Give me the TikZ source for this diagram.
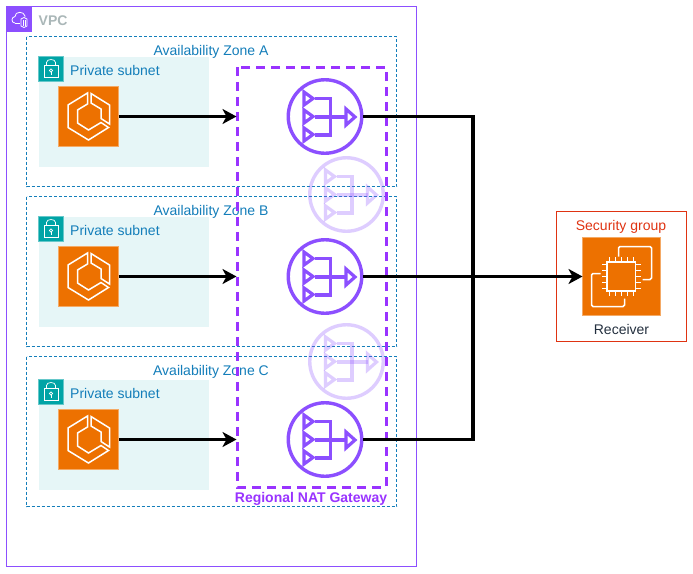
\documentclass[tikz,border=0pt]{standalone}
\usepackage{fontspec}
\setmainfont{Liberation Sans}
\usetikzlibrary{arrows.meta}
\definecolor{vpcpurple}{HTML}{8C4FFF}
\definecolor{azblue}{HTML}{147EBA}
\definecolor{subnetfill}{HTML}{E6F6F7}
\definecolor{subnetgreen}{HTML}{00A4A6}
\definecolor{natdash}{HTML}{9933FF}
\definecolor{awsorange}{HTML}{ED7100}
\definecolor{sgred}{HTML}{DF3312}
\definecolor{vpcgrey}{HTML}{AAB7B8}
\definecolor{inkdark}{HTML}{232F3E}
\newcommand{\labelsize}{\fontsize{14}{16}\selectfont}
\tikzset{
  vpcbox/.style={draw=vpcpurple,line width=1pt,fill=white},
  azbox/.style={draw=azblue,line width=0.8pt,dash pattern=on 3pt off 2pt},
  subnetbox/.style={fill=subnetfill},
  badge/.style={fill=subnetgreen,draw=subnetgreen!60!white,line width=.5pt},
  nataround/.style={dash pattern=on 9pt off 6pt,draw=natdash,line width=3pt},
  orangebox/.style={draw=awsorange!60!white,fill=awsorange,line width=.8pt,inner sep=0pt,outer sep=0pt,rectangle},
  natnode/.style={circle,draw=vpcpurple,line width=3.4pt,minimum size=73.5pt,inner sep=0pt,outer sep=1.7pt},
  fadednode/.style={natnode,draw opacity=.28},
  azlabel/.style={text=azblue,font=\labelsize,inner sep=0pt},
  wire/.style={draw=black,line width=3.2pt},
  arrowwire/.style={wire,-{Stealth[length=14pt,width=15pt,inset=4pt]}},
  glyphline/.style={draw=white,line width=1.5pt,line join=miter},
}
\newcommand{\ecsglyph}[1]{%
  \begin{scope}[shift={(#1)},glyphline]
    \draw (-1,-23.5) -- (-20.5,-11.5) -- (-20.5,11) -- (0,23.5) -- (20,11) -- (12.5,6) -- (0,13.5) -- (-11,6.5) -- (-11,-6.5) -- (-1,-12.5) -- cycle;
    \draw (2.5,-23) -- (21,-11.5) -- (21,7.5) -- (12.5,2) -- (12.5,-7.5) -- (2.5,-13.5) -- cycle;
  \end{scope}}
\newcommand{\natglyph}[2][1]{%
  \begin{scope}[shift={(#2)},draw=vpcpurple,draw opacity=#1,line width=3.2pt,line join=miter]
    \draw (-21,-24.5) -- (-12,-18) -- (-21,-11.5) -- cycle;
    \draw (-21,-6.5) -- (-12,0) -- (-21,6.5) -- cycle;
    \draw (-21,11.5) -- (-12,18) -- (-21,24.5) -- cycle;
    \draw (-10,-18) -- (5.5,-18) -- (5.5,18.5) -- (-10,18.5);
    \draw (-10,0.5) -- (21,0.5);
    \draw (21,-7.5) -- (30,0.5) -- (21,8.5) -- cycle;
  \end{scope}}
\begin{document}
\begin{tikzpicture}[x=1pt,y=-1pt]
\useasboundingbox (0,0) rectangle (693,573);
% VPC
\draw[vpcbox] (6.5,6.5) rectangle (416.5,566.5);
\fill[vpcpurple] (6,6) rectangle (32,32);
\begin{scope}[draw=white,line width=.8pt]
  \draw (15,23) .. controls (11,23) and (11,17) .. (15,16.5) .. controls (15,11) and (24,11) .. (25,16) -- (25,17);
  \draw (15,23) -- (20,23);
  \draw (21,19) -- (24,17.5) -- (27,19) -- (27,26) -- (24,27.5) -- (21,26) -- cycle;
  \draw (23,19.5) -- (23,26) (25,19.5) -- (25,26);
\end{scope}
\node[text=vpcgrey,font=\labelsize\bfseries,anchor=west,inner sep=0pt] (vpclabel) at (38.5,20.5) {VPC};
% Availability zones
\draw[azbox] (26.5,36.5) rectangle (396.5,186.5);
\draw[azbox] (26.5,196.5) rectangle (396.5,346.5);
\draw[azbox] (26.5,356.5) rectangle (396.5,506.5);
\node[azlabel] (azA) at (211,52) {Availability Zone A};
\node[azlabel] (azB) at (211,212) {Availability Zone B};
\node[azlabel] (azC) at (211,372) {Availability Zone C};
% Subnets
\foreach \top/\nm in {56.5/A,216.5/B,379.5/C}{
  \fill[subnetbox] (38.5,\top) rectangle (208.5,\top+110);
  \fill[badge] (38.5,\top) rectangle (63.5,\top+25);
  \begin{scope}[shift={(51,\top)},draw=white,line width=.7pt]
    \draw (-7,9) rectangle (7,21);
    \draw (-4.5,9) -- (-4.5,6) .. controls (-4.5,2) and (4.5,2) .. (4.5,6) -- (4.5,9);
    \draw (0,14) circle (1.6);
    \draw (0,15.6) -- (0,18);
  \end{scope}
  \node[azlabel,anchor=west] (subnet\nm) at (70,\top+13.5) {Private subnet};
}
% Container icons
\node[orangebox,minimum size=60pt] (ecsA) at (88.5,116.5) {};
\node[orangebox,minimum size=60pt] (ecsB) at (88.5,276.5) {};
\node[orangebox,minimum size=60pt] (ecsC) at (88.5,439.5) {};
\ecsglyph{ecsA.center}
\ecsglyph{ecsB.center}
\ecsglyph{ecsC.center}
% Regional NAT
\draw[nataround] (237,67) rectangle (386,487);
\node[text=natdash,font=\labelsize\bfseries,inner sep=0pt] (natlabel) at (311,499) {Regional NAT Gateway};
% Faded gateways
\node[fadednode] (fadeA) at (346.5,194.5) {};
\node[fadednode] (fadeB) at (346.5,361.5) {};
\natglyph[.28]{fadeA.center}
\natglyph[.28]{fadeB.center}
% Gateways
\node[natnode] (natA) at (325,116.5) {};
\node[natnode] (natB) at (325,276.5) {};
\node[natnode] (natC) at (325,439.5) {};
\natglyph{natA.center}
\natglyph{natB.center}
\natglyph{natC.center}
% Security group and receiver
\draw[draw=sgred,line width=.8pt] (556.5,211.5) rectangle (686.5,341.5);
\node[text=sgred,font=\labelsize,inner sep=0pt] (sglabel) at (621,227) {Security group};
\node[orangebox,minimum size=78pt] (recv) at (621.5,276.5) {};
\begin{scope}[shift={(recv.center)},draw=white,line width=1.5pt,rounded corners=1.5pt]
  \draw (-3,-20) -- (-3,-30) -- (30,-30) -- (30,3) -- (21,3);
  \draw (-21,-3) -- (-30,-3) -- (-30,30) -- (3,30) -- (3,22);
\end{scope}
\begin{scope}[shift={(recv.center)},draw=white,line width=1.5pt]
  \draw (-14.5,-14.5) rectangle (14,14.5);
  \foreach \p in {-12,-6,0,6,12}{
    \draw (\p,-14.5) -- (\p,-19.5) (\p,14.5) -- (\p,19.5);
    \draw (-14.5,\p) -- (-19.5,\p) (14,\p) -- (19,\p);
  }
\end{scope}
\node[text=inkdark,font=\labelsize,inner sep=0pt] (recvlabel) at (621.5,329.5) {Receiver};
% Connectors
\coordinate (junction) at (473,276.5);
\coordinate (tipA) at (236.5,116.5);
\coordinate (tipB) at (236.5,276.5);
\coordinate (tipC) at (236.5,439.5);
\draw[arrowwire] (ecsA.east) -- (tipA);
\draw[arrowwire] (ecsB.east) -- (tipB);
\draw[arrowwire] (ecsC.east) -- (tipC);
\draw[wire] (natA.east) -| (junction);
\draw[wire] (natC.east) -| (junction);
\draw[arrowwire] (natB.east) -- (recv.west);
\end{tikzpicture}
\end{document}
